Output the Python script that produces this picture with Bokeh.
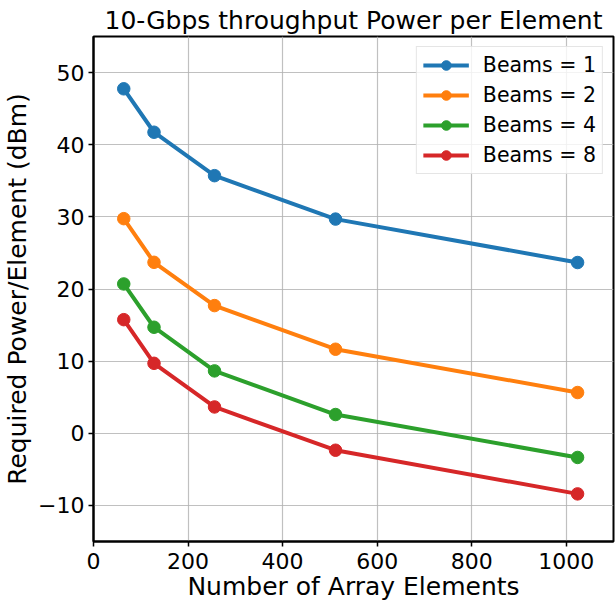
from bokeh.plotting import figure
from bokeh.models import Range1d, FixedTicker, Legend, LegendItem
from bokeh.embed import file_html
from bokeh.resources import INLINE

elements = [64, 128, 256, 512, 1024]
beams_1 = [47.75, 41.73, 35.71, 29.69, 23.67]
beams_2 = [29.75, 23.7, 17.7, 11.65, 5.65]
beams_4 = [20.7, 14.7, 8.65, 2.6, -3.35]
beams_8 = [15.75, 9.7, 3.65, -2.35, -8.4]
series_labels = ["Beams = 1", "Beams = 2", "Beams = 4", "Beams = 8"]
colors = ["#1f77b4", "#ff7f0e", "#2ca02c", "#d62728"]
x_ticks = [0, 200, 400, 600, 800, 1000]
y_ticks = [-10, 0, 10, 20, 30, 40, 50]

FONT = "DejaVu Sans"

p = figure(width=615, height=603, output_backend="svg", toolbar_location=None,
           x_range=Range1d(0, 1100), y_range=Range1d(-15, 55),
           min_border_left=92, min_border_right=2, min_border_top=36, min_border_bottom=61,
           title="10-Gbps throughput Power per Element")

p.title.text_font = FONT
p.title.text_font_size = "25px"
p.title.text_font_style = "normal"
p.title.align = "center"
p.title.text_color = "black"
p.title.standoff = 4

p.outline_line_color = "black"
p.outline_line_width = 2
p.outline_line_alpha = 1

for ax in (p.xaxis[0], p.yaxis[0]):
    ax.axis_line_color = "black"
    ax.axis_line_width = 2
    ax.major_tick_line_color = "black"
    ax.major_tick_line_width = 1.5
    ax.major_tick_out = 5
    ax.major_tick_in = 0
    ax.minor_tick_line_color = None
    ax.major_label_text_font = FONT
    ax.major_label_text_font_size = "22px"
    ax.major_label_text_color = "black"
    ax.axis_label_text_font = FONT
    ax.axis_label_text_font_size = "25px"
    ax.axis_label_text_font_style = "normal"
    ax.axis_label_text_color = "black"

p.xaxis.ticker = FixedTicker(ticks=x_ticks)
p.yaxis.ticker = FixedTicker(ticks=y_ticks)
p.yaxis.major_label_overrides = {t: (str(t).replace("-", "\u2212")) for t in y_ticks}
p.xaxis.axis_label = "Number of Array Elements"
p.yaxis.axis_label = "Required Power/Element (dBm)"
p.xaxis.major_label_standoff = 6
p.yaxis.major_label_standoff = 4
p.xaxis.axis_label_standoff = 0
p.yaxis.axis_label_standoff = 3

p.grid.grid_line_color = "#b0b0b0"
p.grid.grid_line_width = 1.2
p.grid.grid_line_alpha = 0.8

items = []
for lbl, ys, c in zip(series_labels, [beams_1, beams_2, beams_4, beams_8], colors):
    r1 = p.line(elements, ys, line_color=c, line_width=4)
    r2 = p.scatter(elements, ys, size=12.5, fill_color=c, line_color=c)
    items.append(LegendItem(label=lbl, renderers=[r1, r2]))

legend = Legend(items=items, location="top_right")
legend.label_text_font = FONT
legend.label_text_font_size = "20.5px"
legend.label_text_color = "black"
legend.glyph_width = 46
legend.glyph_height = 24
legend.label_height = 24
legend.spacing = 6
legend.padding = 6
legend.label_standoff = 14
legend.margin = 10
legend.border_line_color = "#cccccc"
legend.border_line_width = 1
legend.background_fill_color = "white"
legend.background_fill_alpha = 0.8
p.add_layout(legend)

open("out.html", "w").write(file_html(p, INLINE))
